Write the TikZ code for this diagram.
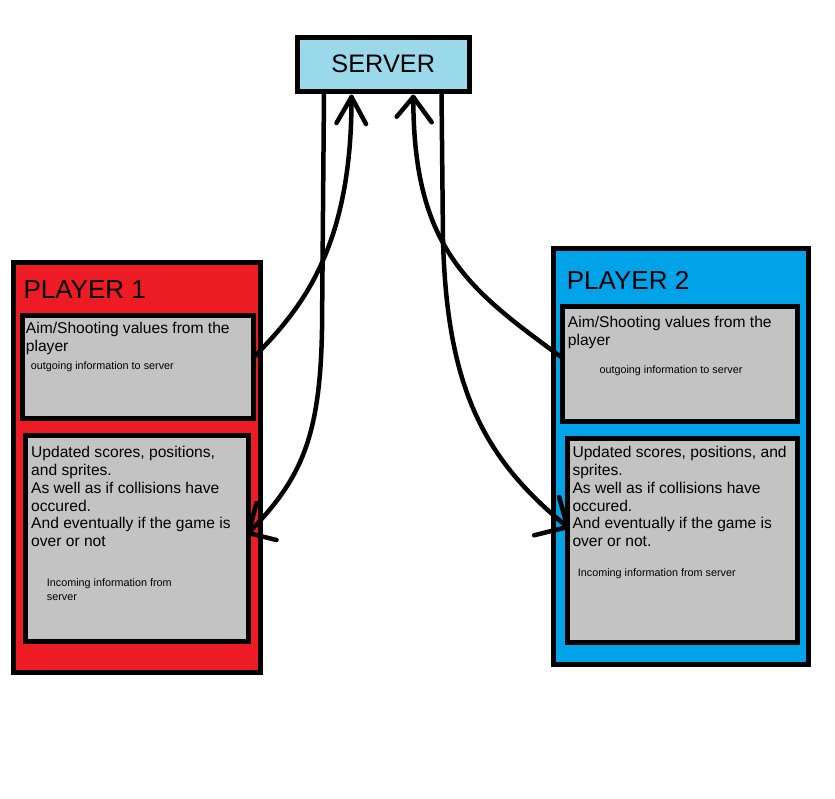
\documentclass[tikz,border=0pt]{standalone}
\usepackage{fontspec}
\setmainfont{Liberation Sans}
\usetikzlibrary{calc}
\definecolor{pred}{HTML}{ED1C24}
\definecolor{pblue}{HTML}{00A2E8}
\definecolor{sblue}{HTML}{99D9EA}
\definecolor{boxgray}{HTML}{C3C3C3}
\newcommand{\txtlines}[1]{\parbox[t]{300pt}{\raggedright #1}}
\begin{document}
\begin{tikzpicture}[x=1pt,y=-1pt,
  box/.style={draw=black, line width=5pt, rectangle, inner sep=0pt, outer sep=0pt},
  title/.style={font=\fontsize{26}{30}\selectfont, inner sep=0pt, anchor=base west},
  body/.style={font=\fontsize{15.6}{17.8}\selectfont, inner sep=0pt, anchor=base west},
  small/.style={font=\fontsize{10.8}{14}\selectfont, inner sep=0pt, anchor=base west},
  conn/.style={line width=4.5pt, line cap=round, line join=round}]
\useasboundingbox (0,0) rectangle (835,798);
\fill[white] (0,0) rectangle (835,798);

% server
\node[box, fill=sblue, minimum width=172.5pt, minimum height=54.5pt,
      font=\fontsize{25.3}{30}\selectfont] (server) at (383.25,64.25) {SERVER};

% player 1
\node[box, fill=pred, minimum width=247pt, minimum height=410pt] (p1) at (136.75,467) {};
\node[box, fill=boxgray, minimum width=230.5pt, minimum height=102.5pt] (p1out) at (137.75,366.75) {};
\node[box, fill=boxgray, minimum width=223.5pt, minimum height=206pt] (p1in) at (136.75,538) {};

% player 2
\node[box, fill=pblue, minimum width=255pt, minimum height=415.5pt] (p2) at (681,456.25) {};
\node[box, fill=boxgray, minimum width=235pt, minimum height=114.5pt] (p2out) at (680,363.75) {};
\node[box, fill=boxgray, minimum width=230pt, minimum height=204pt] (p2in) at (682.5,540.5) {};

% texts player 1
\node[title] (p1title) at (23.3,298.3) {PLAYER 1};
\node[body] (p1outtxt) at (25.7,333.3) {\txtlines{Aim/Shooting values from the\\player}};
\node[small] (p1outnote) at (30.7,369.3) {outgoing information to server};
\node[body] (p1intxt) at (31,457.7) {\txtlines{Updated scores, positions,\\and sprites.\\As well as if collisions have\\occured.\\And eventually if the game is\\over or not}};
\node[small] (p1innote) at (46.7,586) {\txtlines{Incoming information from\\server}};

% texts player 2
\node[title] (p2title) at (566.7,289) {PLAYER 2};
\node[body] (p2outtxt) at (567.7,327.7) {\txtlines{Aim/Shooting values from the\\player}};
\node[small] (p2outnote) at (599.3,373.3) {outgoing information to server};
\node[body] (p2intxt) at (572.3,457.7) {\txtlines{Updated scores, positions, and\\sprites.\\As well as if collisions have\\occured.\\And eventually if the game is\\over or not.}};
\node[small] (p2innote) at (577.7,576.7) {Incoming information from server};

% connector coordinates
\coordinate (aS) at ([xshift=27pt]server.south west);
\coordinate (tipA) at ([yshift=5pt]p1in.east);
\coordinate (bS) at ([yshift=8.75pt]p1out.east);
\coordinate (tipB) at ([xshift=54.5pt,yshift=-5.5pt]server.south west);
\coordinate (cS) at ([yshift=5.75pt]p2out.west);
\coordinate (tipC) at ([xshift=116.3pt,yshift=-5.5pt]server.south west);
\coordinate (dS) at ([xshift=144.5pt]server.south west);
\coordinate (tipD) at ([yshift=13.5pt]p2in.west);

% A: server -> player 1 incoming
\draw[conn] (aS) -- (322,330) .. controls (320,440) and (300,480) .. (tipA);
\draw[conn] (tipA) -- ++(8,-30);
\draw[conn] (tipA) -- ++(28,7);

% B: player 1 outgoing -> server
\draw[conn] (bS) .. controls (300,310) and (352,250) .. (tipB);
\draw[conn] (tipB) -- ++(-15,26);
\draw[conn] (tipB) -- ++(14.5,27);

% C: player 2 outgoing -> server
\draw[conn] (cS) .. controls (470,290) and (413,250) .. (tipC);
\draw[conn] (tipC) -- ++(-16.6,19.7);
\draw[conn] (tipC) -- ++(18.4,25.3);

% D: server -> player 2 incoming
\draw[conn] (dS) -- (443,240) .. controls (447,390) and (485,460) .. (tipD);
\draw[conn] (tipD) -- ++(-8.4,-30);
\draw[conn] (tipD) -- ++(-33.4,8.3);
\end{tikzpicture}
\end{document}
